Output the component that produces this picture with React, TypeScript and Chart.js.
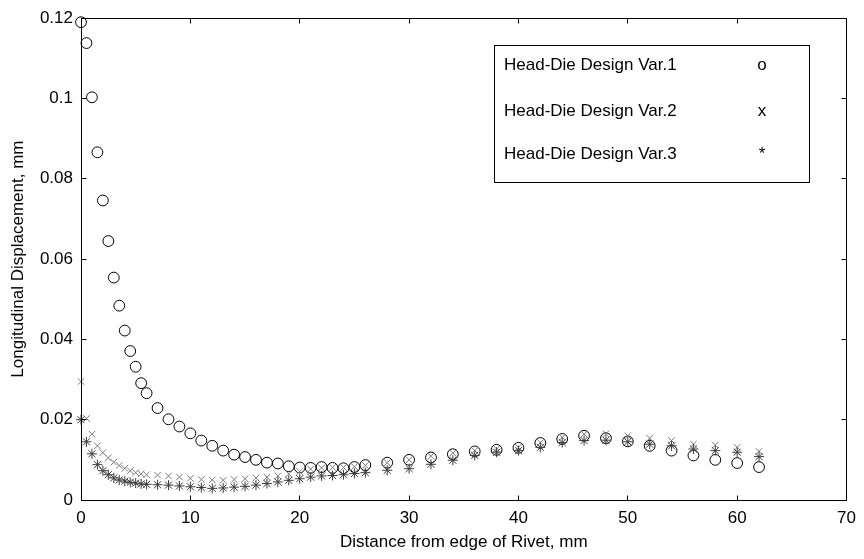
import React, { useEffect, useRef } from 'react';
import { Chart, registerables } from 'chart.js';

Chart.register(...registerables);

const FONT_FAMILY = '"Liberation Sans", Arial, Helvetica, sans-serif';

// Distance from the edge of the rivet, mm
const distance = [
  0, 0.5, 1, 1.5, 2, 2.5, 3, 3.5, 4, 4.5, 5, 5.5, 6,
  7, 8, 9, 10, 11, 12, 13, 14, 15, 16, 17, 18, 19, 20, 21, 22, 23, 24, 25, 26,
  28, 30, 32, 34, 36, 38, 40, 42, 44, 46, 48, 50, 52, 54, 56, 58, 60, 62,
];

// Longitudinal displacement, mm
const var1 = [
  0.119, 0.1138, 0.1003, 0.0866, 0.0746, 0.0645, 0.0554, 0.0484, 0.0422, 0.0371, 0.0332, 0.0291, 0.0266,
  0.0229, 0.0201, 0.0183, 0.0166, 0.0148, 0.0135, 0.0123, 0.0113, 0.0107, 0.01, 0.0093, 0.0091, 0.0084, 0.0081, 0.008, 0.0082, 0.008, 0.0079, 0.0082, 0.0087,
  0.0093, 0.01, 0.0106, 0.0114, 0.0121, 0.0125, 0.013, 0.0142, 0.0152, 0.016, 0.0154, 0.0146, 0.0135, 0.0123, 0.0111, 0.01, 0.0092, 0.0082,
];

const var2 = [
  0.0295, 0.0203, 0.0164, 0.0135, 0.0118, 0.0105, 0.0094, 0.0086, 0.0079, 0.0073, 0.0068, 0.0065, 0.0063,
  0.0062, 0.006, 0.0057, 0.0054, 0.0051, 0.005, 0.0049, 0.0051, 0.0053, 0.0055, 0.0057, 0.006, 0.0065, 0.0071, 0.0077, 0.008, 0.0081, 0.0081, 0.0083, 0.0086,
  0.0093, 0.01, 0.0109, 0.0117, 0.0123, 0.0127, 0.0131, 0.0143, 0.0156, 0.0164, 0.0165, 0.016, 0.0154, 0.0148, 0.0139, 0.0137, 0.0131, 0.0121,
];

const var3 = [
  0.02, 0.0145, 0.0115, 0.0088, 0.0073, 0.0063, 0.0055, 0.005, 0.0047, 0.0044, 0.0042, 0.004, 0.0039,
  0.0038, 0.0037, 0.0035, 0.0033, 0.0031, 0.0029, 0.003, 0.0032, 0.0034, 0.0037, 0.0041, 0.0045, 0.0049, 0.0053, 0.0057, 0.006, 0.0061, 0.0063, 0.0066, 0.0068,
  0.0074, 0.0078, 0.0089, 0.0099, 0.0111, 0.0119, 0.0123, 0.0131, 0.0143, 0.0148, 0.0149, 0.0145, 0.0139, 0.0135, 0.0127, 0.0123, 0.0119, 0.0108,
];

const xTickValues = [0, 10, 20, 30, 40, 50, 60, 70];
const xTickLabels = ['0', '10', '20', '30', '40', '50', '60', '70'];
const yTickValues = [0, 0.02, 0.04, 0.06, 0.08, 0.1, 0.12];
const yTickLabels = ['0', '0.02', '0.04', '0.06', '0.08', '0.1', '0.12'];

const legendLabels = ['Head-Die Design Var.1', 'Head-Die Design Var.2', 'Head-Die Design Var.3'];
const legendSymbols = ['o', 'x', '*'];

const toPoints = (ys: number[]) => ys.map((y, i) => ({ x: distance[i], y }));

// Box around the axes, inward tick marks on all four sides, and the text legend
const framePlugin = {
  id: 'frame',
  afterDraw(chart: any) {
    const { ctx, chartArea: a, scales } = chart;
    const L = Math.floor(a.left) + 0.5;
    const R = Math.floor(a.right) + 0.5;
    const T = Math.floor(a.top) + 0.5;
    const B = Math.floor(a.bottom) + 0.5;
    const tick = 5;
    ctx.save();
    ctx.strokeStyle = '#000';
    ctx.lineWidth = 1;
    ctx.strokeRect(L, T, R - L, B - T);
    ctx.beginPath();
    xTickValues.forEach((v) => {
      const x = Math.floor(scales.x.getPixelForValue(v)) + 0.5;
      ctx.moveTo(x, B);
      ctx.lineTo(x, B - tick);
      ctx.moveTo(x, T);
      ctx.lineTo(x, T + tick);
    });
    yTickValues.forEach((v) => {
      const y = Math.floor(scales.y.getPixelForValue(v)) + 0.5;
      ctx.moveTo(L, y);
      ctx.lineTo(L + tick, y);
      ctx.moveTo(R, y);
      ctx.lineTo(R - tick, y);
    });
    ctx.stroke();

    // legend
    const bx = 494.5;
    const by = 45.5;
    const bw = 315;
    const bh = 137;
    ctx.fillStyle = '#fff';
    ctx.fillRect(bx, by, bw, bh);
    ctx.strokeRect(bx, by, bw, bh);
    ctx.fillStyle = '#000';
    ctx.font = `17px ${FONT_FAMILY}`;
    ctx.textBaseline = 'middle';
    const rows = [65, 111, 154];
    legendLabels.forEach((label, i) => {
      ctx.textAlign = 'left';
      ctx.fillText(label, 504, rows[i]);
      ctx.textAlign = 'center';
      ctx.fillText(legendSymbols[i], 762, rows[i]);
    });
    ctx.restore();
  },
};

export default function App() {
  const canvasRef = useRef<HTMLCanvasElement | null>(null);

  useEffect(() => {
    if (!canvasRef.current) return;
    const font = { family: FONT_FAMILY, size: 17 };
    const chart = new Chart(canvasRef.current, {
      type: 'scatter',
      data: {
        datasets: [
          {
            label: legendLabels[0],
            data: toPoints(var1),
            pointStyle: 'circle',
            pointRadius: 5.4,
            borderColor: '#000',
            backgroundColor: 'rgba(0,0,0,0)',
            borderWidth: 1,
            clip: false,
            order: 3,
          },
          {
            label: legendLabels[1],
            data: toPoints(var2),
            pointStyle: 'crossRot',
            pointRadius: 4.6,
            borderColor: '#7a7a7a',
            backgroundColor: '#7a7a7a',
            borderWidth: 1,
            clip: false,
            order: 2,
          },
          {
            label: legendLabels[2],
            data: toPoints(var3),
            pointStyle: 'star',
            pointRadius: 5,
            borderColor: '#3c3c3c',
            backgroundColor: '#3c3c3c',
            borderWidth: 1,
            clip: false,
            order: 1,
          },
        ],
      },
      options: {
        animation: false,
        responsive: false,
        devicePixelRatio: 1,
        events: [],
        layout: { padding: { top: 12, right: 13, left: 0, bottom: 0 } },
        plugins: {
          legend: { display: false },
          tooltip: { enabled: false },
        },
        scales: {
          x: {
            type: 'linear',
            min: 0,
            max: 70,
            afterBuildTicks: (s: any) => {
              s.ticks = xTickValues.map((value) => ({ value }));
            },
            afterFit: (s: any) => {
              s.height = 59;
            },
            grid: { display: false, drawTicks: false },
            border: { display: false },
            ticks: {
              font,
              color: '#000',
              padding: 8,
              maxRotation: 0,
              callback: (_v: any, i: number) => xTickLabels[i],
            },
            title: {
              display: true,
              text: 'Distance from edge of Rivet, mm',
              font,
              color: '#000',
              padding: { top: 0, bottom: 6 },
            },
          },
          y: {
            type: 'linear',
            min: 0,
            max: 0.12,
            afterBuildTicks: (s: any) => {
              s.ticks = yTickValues.map((value) => ({ value }));
            },
            afterFit: (s: any) => {
              s.width = 81;
            },
            grid: { display: false, drawTicks: false },
            border: { display: false },
            ticks: {
              font,
              color: '#000',
              padding: 8,
              callback: (_v: any, i: number) => yTickLabels[i],
            },
            title: {
              display: true,
              text: 'Longitudinal Displacement, mm',
              font,
              color: '#000',
              padding: { top: 8, bottom: 0 },
            },
          },
        },
      },
      plugins: [framePlugin],
    });
    return () => chart.destroy();
  }, []);

  return (
    <div style={{ position: 'fixed', left: 0, top: 0, width: 864, height: 559, background: '#fff' }}>
      <canvas ref={canvasRef} width={864} height={559} style={{ width: 864, height: 559, display: 'block' }} />
    </div>
  );
}
